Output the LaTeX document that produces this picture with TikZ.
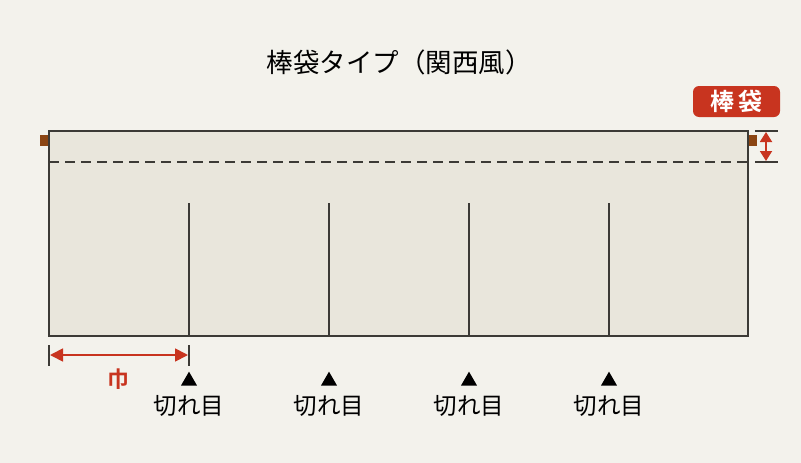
\documentclass[tikz,border=0pt]{standalone}
\usepackage{fontspec}
\setmainfont{Noto Sans CJK JP}
\newfontfamily\jpbold{Noto Sans CJK JP Bold}
\usetikzlibrary{arrows.meta,positioning,shapes.geometric}
\definecolor{bgpaper}{HTML}{F3F2EC}
\definecolor{cloth}{HTML}{E9E6DC}
\definecolor{edge}{HTML}{3C3A36}
\definecolor{rod}{HTML}{8B4513}
\definecolor{mark}{HTML}{C8341F}
\tikzset{
  title/.style  = {font=\fontsize{26.5}{30}\selectfont, text=black},
  slitlabel/.style = {font=\fontsize{23.5}{26}\selectfont, text=black, inner sep=0pt},
  tagbox/.style = {fill=mark, rounded corners=6pt, text=white, minimum width=87pt,
                   minimum height=31pt, font=\jpbold\fontsize{24}{26}\selectfont},
  tick/.style   = {draw=edge, line width=1.6pt},
  dim/.style    = {draw=mark, line width=1.8pt, {Triangle[length=13pt,width=13pt]}-{Triangle[length=13pt,width=13pt]}},
  dimshort/.style = {draw=mark, line width=1.8pt, {Triangle[length=10pt,width=12pt]}-{Triangle[length=10pt,width=12pt]}},
  tri/.style    = {isosceles triangle, isosceles triangle apex angle=60, shape border rotate=90,
                   fill=black, inner sep=0pt, minimum height=14pt}
}
\begin{document}
\begin{tikzpicture}[x=1pt,y=-1pt]
\fill[bgpaper] (0,0) rectangle (801,463);
\useasboundingbox (0,0) rectangle (801,463);

\node[title] (ttl) at (399,62) {棒袋タイプ（関西風）};
\node[tagbox] (tag) at (736.5,101.5) {棒\,袋};

% rod ends and cloth
\fill[rod] (40,135) rectangle (49,146);
\fill[rod] (748,135) rectangle (757,146);
\draw[edge, line width=1.5pt, fill=cloth] (49,131) coordinate (tl) rectangle (748,336) coordinate (br);
\draw[edge, line width=1.3pt, dash pattern=on 10pt off 6pt] (49,162) -- (748,162);

\foreach \x [count=\i] in {189,329,469,609} {
  \coordinate (s\i) at (\x,203);
  \coordinate (b\i) at (\x,336);
  \draw[edge, line width=1.3pt] (s\i) -- (b\i);
  \node[tri] (t\i) at (\x,381) {};
  \node[slitlabel] (l\i) at (\x,406) {切れ目};
}

% bag depth
\coordinate (ha) at (755,131);
\coordinate (hb) at (778,131);
\coordinate (hc) at (755,162);
\coordinate (hd) at (778,162);
\draw[tick] (ha) -- (hb);
\draw[tick] (hc) -- (hd);
\draw[dimshort] (766,132) -- (766,161);

% width
\coordinate (wa) at (49,345);
\coordinate (wb) at (49,366);
\coordinate (wc) at (189,345);
\coordinate (wd) at (189,366);
\draw[tick] (wa) -- (wb);
\draw[tick] (wc) -- (wd);
\draw[dim] (50,355) -- (188,355);
\node[font=\jpbold\fontsize{22}{24}\selectfont, text=mark] (wid) at (118,379) {巾};
\end{tikzpicture}
\end{document}
